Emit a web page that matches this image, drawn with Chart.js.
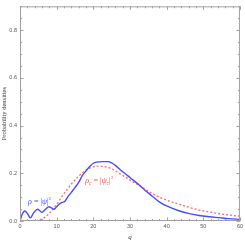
<!DOCTYPE html>
<html>
<head>
<meta charset="utf-8">
<script src="https://cdn.jsdelivr.net/npm/chart.js@4"></script>
<style>
  html, body { margin: 0; padding: 0; background: #fff; }
  #wrap { width: 245px; height: 241px; }
</style>
</head>
<body>
<div id="wrap"><canvas id="densityChart"></canvas></div>
<script>
// Values
const qQuantum = [0, 0.6, 1.3, 2.0, 2.8, 3.8, 4.8, 5.4, 6.0, 7.0, 7.9, 8.6, 9.2, 10.0, 10.8, 11.5, 12.2, 13.0, 14.0, 15.0, 16.0, 17.0, 18.0, 19.0, 20.0, 21.0, 22.5, 24.0, 25.0, 26.0, 27.5, 29.0, 30.0, 32.6, 34.4, 36.0, 38.0, 40.0, 43.5, 46.2, 48.9, 51.6, 54.3, 57.0, 60.0];
const rhoQuantum = [0, 0.028, 0.042, 0.032, 0.013, 0.036, 0.049, 0.043, 0.036, 0.05, 0.06, 0.055, 0.049, 0.06, 0.072, 0.078, 0.082, 0.1, 0.12, 0.14, 0.162, 0.19, 0.21, 0.228, 0.242, 0.247, 0.249, 0.249, 0.244, 0.233, 0.213, 0.195, 0.182, 0.15, 0.125, 0.105, 0.08, 0.063, 0.042, 0.031, 0.023, 0.018, 0.014, 0.01, 0.007];

const qClassical = [0, 2.0, 3.5, 5.0, 6.0, 7.0, 8.0, 9.0, 10.0, 11.0, 12.0, 13.0, 14.0, 15.0, 16.0, 17.0, 18.0, 19.0, 20.0, 21.0, 22.0, 23.0, 24.0, 25.4, 27.2, 29.0, 30.8, 32.6, 34.0, 35.3, 38.0, 40.8, 43.5, 46.2, 48.9, 51.6, 54.3, 57.0, 60.0];
const rhoClassical = [0, 0, 0, 0.003, 0.008, 0.018, 0.032, 0.05, 0.07, 0.092, 0.115, 0.135, 0.155, 0.172, 0.188, 0.202, 0.213, 0.222, 0.227, 0.23, 0.23, 0.228, 0.224, 0.216, 0.198, 0.182, 0.164, 0.148, 0.134, 0.122, 0.1, 0.083, 0.07, 0.057, 0.046, 0.038, 0.031, 0.025, 0.02];

const xTicks = [0, 10, 20, 30, 40, 50, 60];
const yTicks = [0, 0.2, 0.4, 0.6, 0.8];

const toPoints = (xs, ys) => xs.map((x, i) => ({ x: x, y: ys[i] }));

// Frame with inward ticks on all four sides (Mathematica style)
const framePlugin = {
    id: 'frame',
    afterDatasetsDraw(chart) {
        const { ctx, chartArea: a, scales } = chart;
        const xs = scales.x, ys = scales.y;
        ctx.save();
        ctx.strokeStyle = '#a0a0a0';
        ctx.lineWidth = 1;
        ctx.strokeRect(a.left + 0.5, a.top + 0.5, a.right - a.left - 1, a.bottom - a.top - 1);
        ctx.beginPath();
        for (let v = 0; v <= 60.001; v += 2) {
            const px = Math.round(xs.getPixelForValue(v)) + 0.5;
            const len = (Math.abs(v % 10) < 0.01) ? 3.5 : 2;
            ctx.moveTo(px, a.bottom); ctx.lineTo(px, a.bottom - len);
            ctx.moveTo(px, a.top); ctx.lineTo(px, a.top + len);
        }
        for (let v = 0; v <= 0.9001; v += 0.05) {
            const py = Math.round(ys.getPixelForValue(v)) + 0.5;
            const len = (Math.abs((v * 100) % 20) < 0.5 || Math.abs((v * 100) % 20 - 20) < 0.5) ? 3.5 : 2;
            ctx.moveTo(a.left, py); ctx.lineTo(a.left + len, py);
            ctx.moveTo(a.right, py); ctx.lineTo(a.right - len, py);
        }
        ctx.stroke();
        ctx.restore();
    }
};

// Curve labels drawn in data coordinates
function drawParts(ctx, x, y, parts, color) {
    ctx.fillStyle = color;
    ctx.textBaseline = 'alphabetic';
    parts.forEach(p => {
        const size = p.size || 8;
        ctx.font = (p.italic ? 'italic ' : '') + size + 'px "Liberation Serif", "DejaVu Serif", serif';
        ctx.fillText(p.t, x, y + (p.dy || 0));
        x += ctx.measureText(p.t).width;
    });
}

const labelPlugin = {
    id: 'curveLabels',
    afterDatasetsDraw(chart) {
        const { ctx, scales } = chart;
        ctx.save();
        drawParts(ctx, scales.x.getPixelForValue(2.2), scales.y.getPixelForValue(0.07), [
            { t: 'ρ', italic: true },
            { t: ' = |' },
            { t: 'ψ', italic: true },
            { t: '|' },
            { t: '2', size: 5, dy: -4 }
        ], '#4d4dff');
        drawParts(ctx, scales.x.getPixelForValue(17.8), scales.y.getPixelForValue(0.16), [
            { t: 'ρ', italic: true },
            { t: 'c', italic: true, size: 5.5, dy: 2 },
            { t: ' = |' },
            { t: 'ψ', italic: true },
            { t: 'c', italic: true, size: 5.5, dy: 2 },
            { t: '|' },
            { t: '2', size: 5, dy: -4 }
        ], '#ff4d4d');
        ctx.restore();
    }
};

const config = {
    type: 'line',
    data: {
        datasets: [{
            label: 'quantum',
            data: toPoints(qQuantum, rhoQuantum),
            borderColor: '#4a4aff',
            borderWidth: 1.4,
            pointRadius: 0,
            tension: 0.4,
            cubicInterpolationMode: 'monotone',
            fill: false
        }, {
            label: 'classical',
            data: toPoints(qClassical, rhoClassical),
            borderColor: '#ff6a6a',
            borderWidth: 1.3,
            borderDash: [2, 2],
            pointRadius: 0,
            cubicInterpolationMode: 'monotone',
            fill: false
        }]
    },
    options: {
        responsive: false,
        animation: false,
        devicePixelRatio: 1,
        layout: { padding: { top: 1, right: 3, left: 0, bottom: 0 } },
        plugins: {
            legend: { display: false },
            tooltip: { enabled: false }
        },
        scales: {
            x: {
                type: 'linear',
                min: 0,
                max: 60,
                afterFit: s => { s.height = 20; },
                afterBuildTicks: s => { s.ticks = xTicks.map(v => ({ value: v })); },
                grid: { display: false, drawTicks: false },
                border: { display: false },
                ticks: {
                    padding: 2,
                    color: '#555',
                    font: { family: 'Liberation Sans, Arial, sans-serif', size: 5.5 },
                    maxRotation: 0,
                    callback: v => String(v)
                },
                title: {
                    display: true,
                    text: 'q',
                    color: '#333',
                    padding: { top: 0, bottom: 0 },
                    font: { family: 'Liberation Serif, serif', style: 'italic', size: 7 }
                }
            },
            y: {
                type: 'linear',
                min: 0,
                max: 0.9,
                afterFit: s => { s.width = 20; },
                afterBuildTicks: s => { s.ticks = yTicks.map(v => ({ value: v })); },
                grid: { display: false, drawTicks: false },
                border: { display: false },
                ticks: {
                    padding: 3,
                    color: '#555',
                    font: { family: 'Liberation Sans, Arial, sans-serif', size: 5.5 },
                    callback: v => Number(v).toFixed(1)
                },
                title: {
                    display: true,
                    text: 'Probability densities',
                    color: '#333',
                    padding: { top: 0, bottom: 0 },
                    font: { family: 'Liberation Serif, serif', size: 6.5 }
                }
            }
        }
    },
    plugins: [framePlugin, labelPlugin]
};

const canvas = document.getElementById('densityChart');
canvas.width = 245;
canvas.height = 241;
new Chart(canvas, config);
</script>
</body>
</html>
